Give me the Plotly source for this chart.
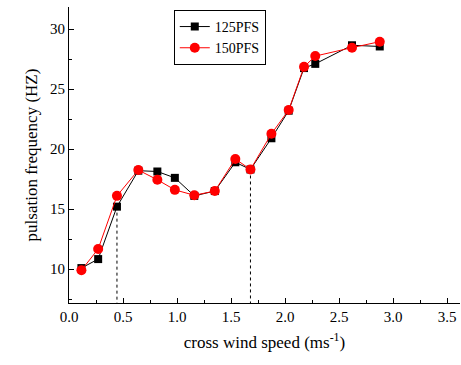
import plotly.graph_objects as go

# data
speed = [0.115, 0.27, 0.444, 0.642, 0.818, 0.98, 1.16, 1.35, 1.54, 1.68,
         1.874, 2.034, 2.176, 2.28, 2.62, 2.877]
pfs125 = [10.08, 10.83, 15.2, 18.2, 18.13, 17.6, 16.1, 16.5, 18.9, 18.3,
          20.9, 23.2, 26.75, 27.1, 28.65, 28.55]
pfs150 = [9.9, 11.67, 16.1, 18.25, 17.44, 16.6, 16.15, 16.5, 19.17, 18.3,
          21.27, 23.25, 26.85, 27.75, 28.45, 28.95]
drop_idx = [2, 9]   # points marked with dotted drop lines

YMIN, YMAX = 7.17, 31.84
XMIN, XMAX = 0.0, 3.62

FONT = "Liberation Serif, Times New Roman, serif"

fig = go.Figure()

# dotted drop lines
for i in drop_idx:
    fig.add_trace(go.Scatter(
        x=[speed[i], speed[i]], y=[pfs125[i], YMIN],
        mode="lines", line=dict(color="black", width=1, dash="dot"),
        showlegend=False, hoverinfo="skip"))

fig.add_trace(go.Scatter(
    x=speed, y=pfs125, name="125PFS", mode="lines+markers",
    line=dict(color="black", width=1),
    marker=dict(symbol="square", size=8, color="black")))
fig.add_trace(go.Scatter(
    x=speed, y=pfs150, name="150PFS", mode="lines+markers",
    line=dict(color="red", width=1),
    marker=dict(symbol="circle", size=10, color="red")))

axis_common = dict(
    showgrid=False, zeroline=False, showline=True, linecolor="black", linewidth=1,
    ticks="inside", ticklen=5, tickcolor="black", tickwidth=1, automargin=False,
    tickfont=dict(family=FONT, size=15, color="black"),
)

fig.update_xaxes(range=[XMIN, XMAX], dtick=0.5, tick0=0, tickformat=".1f",
                 minor=dict(ticks="inside", ticklen=3, dtick=0.25, tickcolor="black"),
                 title=dict(text="cross wind speed (ms<sup>-1</sup>)",
                            font=dict(family=FONT, size=17, color="black"), standoff=12),
                 **axis_common)
fig.update_yaxes(range=[YMIN, YMAX], dtick=5, tick0=0,
                 minor=dict(ticks="inside", ticklen=3, dtick=2.5, tickcolor="black"),
                 title=dict(text="pulsation frequency (HZ)",
                            font=dict(family=FONT, size=17, color="black"), standoff=8),
                 **axis_common)

fig.update_layout(
    width=461, height=365,
    font=dict(family=FONT, color="black"),
    margin=dict(l=69, r=1, t=7, b=62, autoexpand=False),
    plot_bgcolor="white", paper_bgcolor="white",
    legend=dict(x=0.268, y=0.99, xanchor="left", yanchor="top",
                bordercolor="black", borderwidth=1, bgcolor="white",
                font=dict(family=FONT, size=14, color="black"),
                tracegroupgap=0, itemwidth=30),
)

fig.write_html("out.html", config={"displayModeBar": False},
               post_script="document.body.style.margin='0';document.body.style.padding='0';")
